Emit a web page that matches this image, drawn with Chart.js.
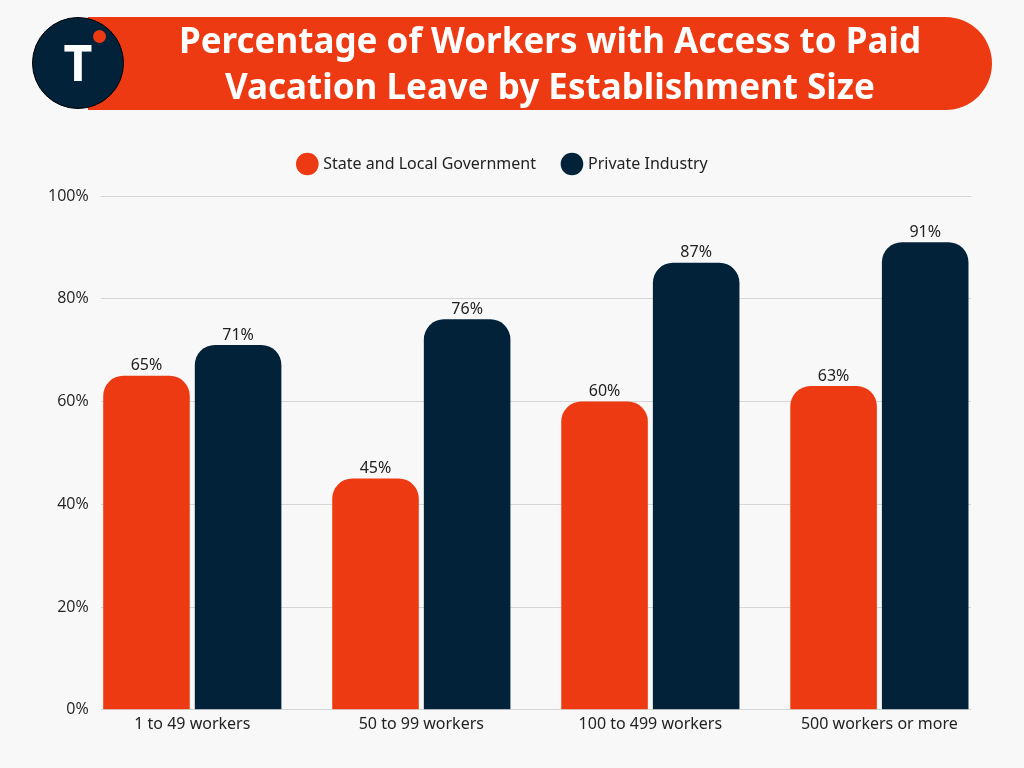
<!DOCTYPE html>
<html>
<head>
<meta charset="utf-8">
<script src="https://cdn.jsdelivr.net/npm/chart.js@4.4.1/dist/chart.umd.min.js"></script>
<style>
  html, body { margin: 0; padding: 0; background: #f8f8f8; }
  #wrap { position: relative; width: 1024px; height: 768px; overflow: hidden; }
  #myChart { position: absolute; left: 0; top: 0; }
  .banner {
    position: absolute; left: 88px; top: 17px; width: 904px; height: 93px;
    background: #ee3a12; border-radius: 0 47px 47px 0;
  }
  .banner h1 {
    margin: 0; padding-left: 20px; color: #fff; text-align: center;
    font-family: "Noto Sans", sans-serif; font-weight: 700; font-size: 35px;
    line-height: 46px; padding-top: 0px;
  }
  .logo {
    position: absolute; left: 32px; top: 17px; width: 90px; height: 90px;
    border-radius: 50%; background: #02223a; border: 1.5px solid #000;
  }
  .logo span {
    position: absolute; left: 0; right: 0; top: 14px; text-align: center;
    color: #fff; font-family: "Noto Sans", sans-serif; font-weight: 700; font-size: 50px; line-height: 60px;
  }
  .dot {
    position: absolute; left: 93px; top: 30px; width: 13px; height: 13px;
    border-radius: 50%; background: #ee3a12;
  }
</style>
</head>
<body>
<div id="wrap">
  <canvas id="myChart" width="1024" height="768"></canvas>
  <div class="banner"><h1>Percentage of Workers with Access to Paid<br>Vacation Leave by Establishment Size</h1></div>
  <div class="logo"><span>T</span></div>
  <div class="dot"></div>
</div>
<script>
/* globals Chart */

const categories = ["1 to 49 workers", "50 to 99 workers", "100 to 499 workers", "500 workers or more"];
const stateLocal = [65, 45, 60, 63];
const privateIndustry = [71, 76, 87, 91];
const yTicks = [0, 20, 40, 60, 80, 100];

const ORANGE = "#ee3a12";
const NAVY = "#02223a";

const toPoints = (arr) => arr.map((v, i) => ({ x: i, y: v }));

// extra room under the legend
const legendGap = {
  id: "legendGap",
  beforeInit(chart) {
    const fit = chart.legend.fit;
    chart.legend.fit = function () {
      fit.bind(chart.legend)();
      this.height += 14;
    };
  },
};

const valueLabels = {
  id: "valueLabels",
  afterDatasetsDraw(chart) {
    const c = chart.ctx;
    c.save();
    c.font = "16px 'Noto Sans', sans-serif";
    c.fillStyle = "#222";
    c.textAlign = "center";
    c.textBaseline = "bottom";
    chart.data.datasets.forEach((ds, di) => {
      chart.getDatasetMeta(di).data.forEach((bar, i) => {
        c.fillText(ds.data[i].y + "%", bar.x, bar.y - 2);
      });
    });
    c.restore();
  },
};

const ctx = document.getElementById("myChart").getContext("2d");

/* exported myChart */
const myChart = new Chart(ctx, {
  type: "bar",
  data: {
    datasets: [
      {
        label: "State and Local Government",
        data: toPoints(stateLocal),
        backgroundColor: ORANGE,
        borderRadius: { topLeft: 20, topRight: 20 },
        borderSkipped: "bottom",
      },
      {
        label: "Private Industry",
        data: toPoints(privateIndustry),
        backgroundColor: NAVY,
        borderRadius: { topLeft: 20, topRight: 20 },
        borderSkipped: "bottom",
      },
    ],
  },
  plugins: [legendGap, valueLabels],
  options: {
    responsive: false,
    animation: false,
    categoryPercentage: 0.8,
    barPercentage: 0.945,
    layout: { padding: { top: 128, left: 36, right: 53, bottom: 37 } },
    scales: {
      x: {
        type: "linear",
        min: -0.4,
        max: 3.4,
        offset: false,
        grid: { display: false },
        border: { display: false },
        ticks: {
          stepSize: 1,
          includeBounds: false,
          autoSkip: false,
          maxRotation: 0,
          padding: -3,
          color: "#222",
          font: { family: "'Noto Sans', sans-serif", size: 16 },
          callback: (v) => (Number.isInteger(v) ? categories[v] : ""),
        },
      },
      y: {
        min: 0,
        max: 100,
        afterBuildTicks: (scale) => {
          scale.ticks = yTicks.map((v) => ({ value: v }));
        },
        grid: { color: "#d6d6d6", lineWidth: 1, drawTicks: false },
        border: { display: false },
        ticks: {
          padding: 12,
          color: "#222",
          font: { family: "'Open Sans', sans-serif", size: 16 },
          callback: (v) => `${v}%`,
        },
      },
    },
    plugins: {
      title: { display: false },
      tooltip: { enabled: false },
      legend: {
        display: true,
        position: "top",
        labels: {
          usePointStyle: true,
          pointStyle: "circle",
          boxWidth: 16,
          boxHeight: 16,
          padding: 28,
          color: "#222",
          font: { family: "'Noto Sans', sans-serif", size: 16 },
        },
      },
    },
  },
});
</script>
</body>
</html>
